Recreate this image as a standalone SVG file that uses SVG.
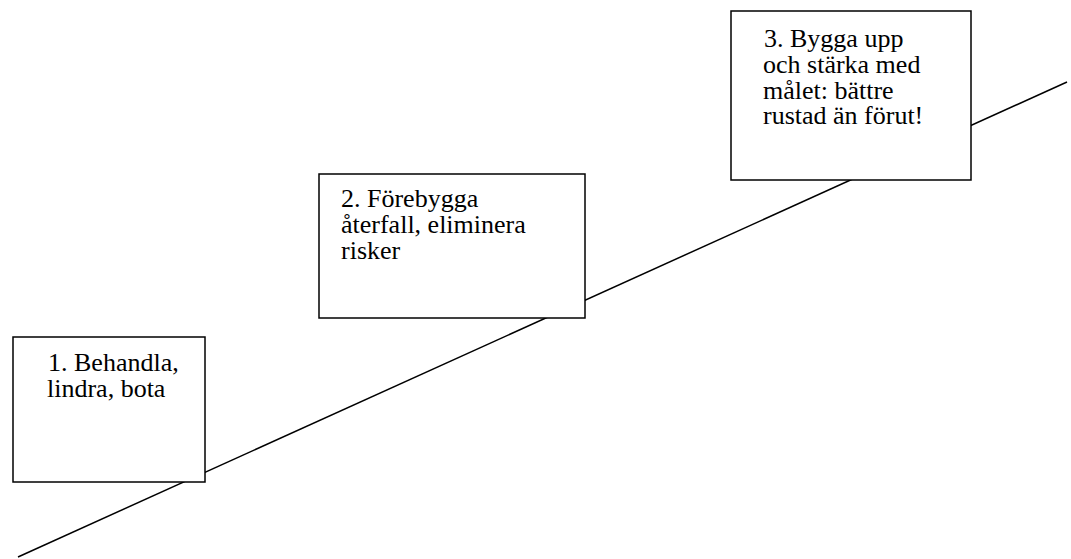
<svg xmlns="http://www.w3.org/2000/svg" width="1071" height="559" viewBox="0 0 1071 559">
<style>
.box{fill:#fff;stroke:#000;stroke-width:1.5}
.t{font-family:"Liberation Serif","Times New Roman",serif;font-size:26px;fill:#000}
.ln{stroke:#000;stroke-width:1.5;fill:none}
</style>
<rect width="1071" height="559" fill="#fff"/>
<g id="connectors">
<line class="ln" x1="18" y1="557" x2="1067" y2="82"/>
</g>
<g id="node1">
<rect class="box" x="13" y="337" width="192" height="145"/>
<text class="t"><tspan x="48" y="371">1. Behandla,</tspan><tspan x="47" y="397">lindra, bota</tspan></text>
</g>
<g id="node2">
<rect class="box" x="319" y="174" width="266" height="144"/>
<text class="t"><tspan x="341" y="207">2. Förebygga</tspan><tspan x="341" y="233">återfall, eliminera</tspan><tspan x="341" y="259">risker</tspan></text>
</g>
<g id="node3">
<rect class="box" x="731" y="11" width="240" height="169"/>
<text class="t"><tspan x="764" y="47">3. Bygga upp</tspan><tspan x="763" y="73">och stärka med</tspan><tspan x="763" y="99">målet: bättre</tspan><tspan x="763" y="124">rustad än förut!</tspan></text>
</g>
</svg>
